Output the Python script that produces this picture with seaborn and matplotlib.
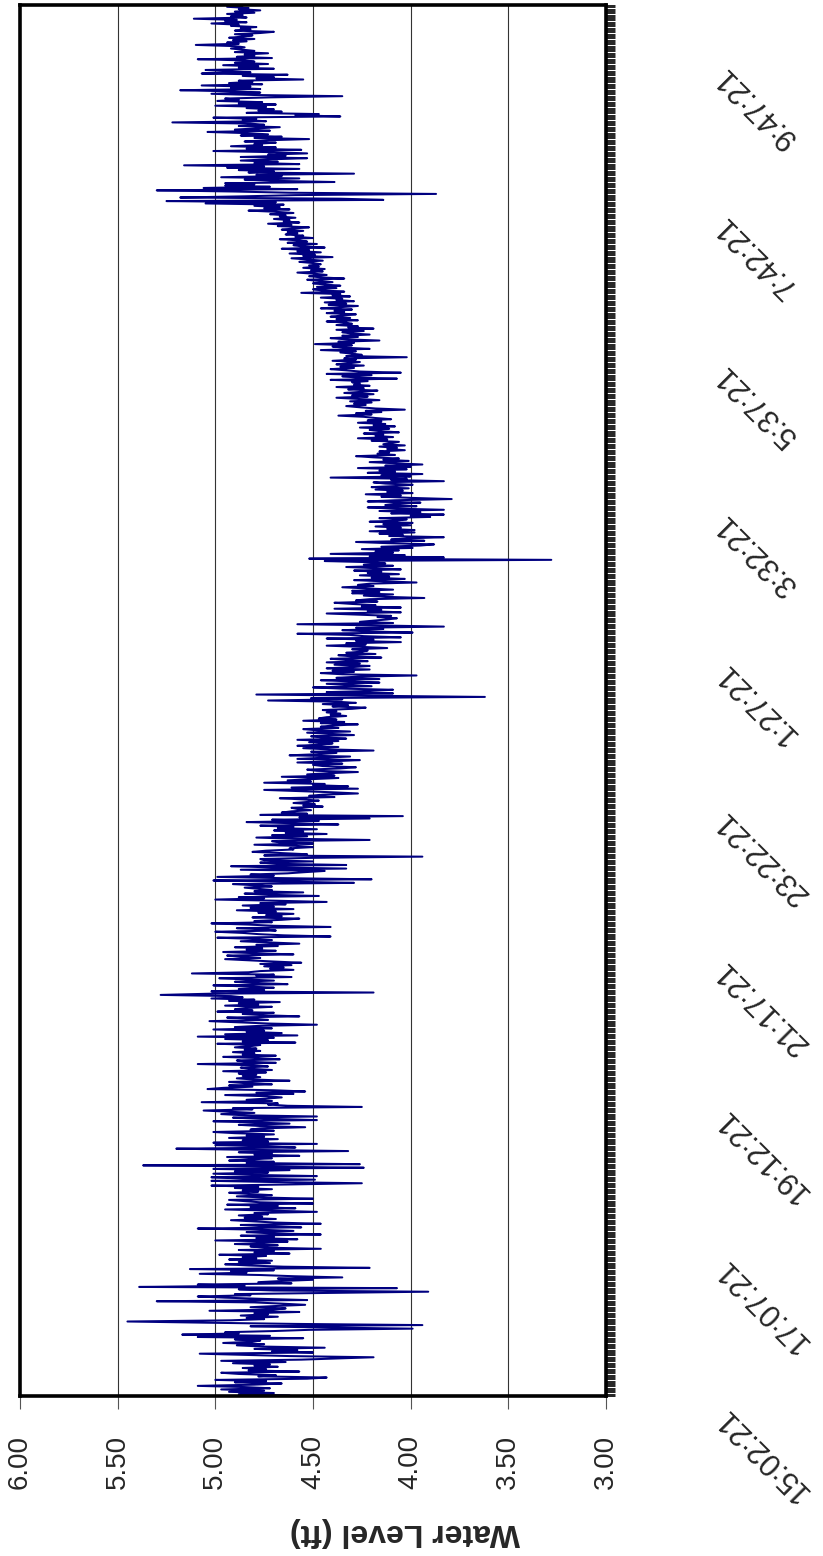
import matplotlib
matplotlib.use("Agg")
import matplotlib.pyplot as plt
from matplotlib.ticker import FixedLocator
import numpy as np
import pandas as pd
import seaborn as sns

# One-minute water level readings (ft), grouped by the 2 h 05 min label intervals
level_1502 = [
    4.62, 4.88, 4.70, 4.93, 4.75, 4.97, 4.72, 4.85, 5.09, 4.80, 4.66, 4.90, 4.74, 5.00, 4.53, 4.43, 4.78, 4.69, 4.88, 4.97, 4.57, 4.83, 4.74, 4.86, 4.68,
    4.80, 4.72, 4.91, 4.64, 4.97, 4.56, 4.38, 4.19, 4.62, 4.85, 5.08, 4.50, 4.71, 4.58, 4.80, 4.44, 4.76, 4.89, 4.75, 4.96, 4.81, 4.77, 4.90, 4.55, 5.09,
    4.72, 5.17, 4.88, 4.95, 4.70, 4.52, 3.99, 4.45, 4.82, 3.94, 4.60, 5.05, 5.45, 4.92, 4.75, 4.84, 4.68, 4.87, 4.73, 4.80, 4.57, 5.03, 4.70, 4.64, 4.82,
    4.69, 4.54, 4.66, 4.80, 5.30, 4.53, 4.76, 4.95, 5.09, 4.82, 4.90, 4.40, 3.91, 4.70, 4.88, 4.07, 5.39, 4.85, 5.09, 4.61, 4.78, 4.66, 4.50, 4.68, 4.35,
    4.60, 4.77, 5.08, 4.84, 4.92, 4.70, 5.13, 4.21, 4.65, 4.83, 4.95, 4.72, 4.88, 4.71, 4.93, 4.79, 4.86, 4.74, 4.98, 4.62, 4.80, 4.70, 4.88, 4.46, 4.75,
]
level_1707 = [
    4.82, 4.68, 4.90, 4.75, 4.63, 5.00, 4.58, 4.79, 4.70, 4.87, 4.46, 4.72, 4.84, 4.60, 4.77, 5.09, 4.56, 4.74, 4.87, 4.46, 4.69, 4.80, 4.92, 4.69, 4.85,
    4.76, 4.88, 4.73, 4.80, 4.48, 4.71, 4.95, 4.59, 4.82, 4.68, 4.94, 4.50, 4.77, 4.85, 4.93, 4.50, 4.74, 4.89, 4.71, 4.83, 4.93, 4.78, 4.86, 4.71, 4.90,
    4.78, 5.02, 4.61, 4.25, 4.70, 5.02, 4.49, 4.86, 5.02, 4.48, 4.80, 5.01, 4.73, 4.90, 4.62, 5.01, 4.24, 4.75, 5.37, 4.26, 4.84, 4.70, 4.93, 4.81, 4.71,
    4.94, 4.57, 4.80, 4.71, 4.88, 4.32, 4.82, 5.20, 4.59, 4.76, 5.00, 4.48, 5.01, 4.73, 4.86, 4.68, 4.93, 4.75, 4.84, 4.70, 4.90, 5.01, 4.70, 4.82, 4.77,
    4.54, 4.77, 4.88, 4.62, 4.80, 5.01, 4.48, 4.72, 4.91, 4.48, 4.85, 4.97, 4.80, 4.93, 5.06, 4.81, 4.91, 4.25, 4.63, 4.73, 4.68, 5.07, 4.71, 4.84, 4.74,
]
level_1912 = [
    4.66, 4.74, 4.95, 4.60, 4.79, 4.54, 4.70, 5.04, 4.96, 4.81, 4.93, 4.71, 4.85, 4.93, 4.62, 4.80, 4.89, 4.77, 4.86, 4.79, 4.88, 4.74, 4.96, 4.71, 4.82,
    4.87, 4.73, 4.80, 5.09, 4.69, 4.84, 4.89, 4.67, 4.78, 4.96, 4.69, 4.86, 4.80, 4.91, 4.77, 4.85, 4.79, 4.90, 4.82, 4.77, 4.99, 4.59, 4.86, 4.73, 4.95,
    4.70, 5.09, 4.58, 4.95, 4.66, 4.84, 4.75, 5.01, 4.71, 4.90, 4.78, 4.48, 4.73, 4.88, 5.03, 4.73, 4.80, 4.94, 4.57, 4.76, 4.86, 4.70, 4.99, 4.81, 4.90,
    4.84, 4.71, 4.95, 4.78, 4.88, 4.67, 4.93, 4.80, 5.02, 4.86, 4.92, 5.28, 5.03, 4.19, 5.02, 4.75, 4.88, 4.70, 4.82, 5.01, 4.63, 4.79, 4.90, 4.70, 4.85,
    4.98, 4.61, 4.79, 4.70, 5.12, 4.83, 4.77, 4.60, 4.72, 4.65, 4.75, 4.61, 4.77, 4.56, 4.70, 4.82, 4.95, 4.77, 4.86, 4.94, 4.60, 4.80, 4.96, 4.69, 4.84,
]
level_2117 = [
    4.76, 4.90, 4.68, 4.79, 4.57, 4.72, 4.87, 4.71, 4.80, 4.99, 4.41, 4.65, 4.78, 4.86, 5.00, 4.69, 4.75, 4.89, 4.41, 4.70, 4.83, 5.02, 4.71, 4.80, 4.66,
    4.57, 4.81, 4.66, 4.74, 4.60, 4.78, 4.69, 4.89, 4.60, 4.82, 4.70, 4.86, 4.64, 4.77, 4.43, 4.68, 5.00, 4.75, 4.88, 4.47, 4.72, 4.85, 4.55, 4.80, 4.71,
    4.78, 4.85, 4.71, 4.80, 4.91, 4.29, 4.62, 5.01, 4.20, 4.67, 4.99, 4.70, 4.82, 4.63, 4.54, 4.44, 4.87, 4.33, 4.72, 4.92, 4.33, 4.68, 4.77, 4.50, 4.75,
    4.77, 4.50, 3.94, 4.75, 4.53, 4.66, 4.81, 4.74, 4.60, 4.62, 4.50, 4.58, 4.80, 4.50, 4.67, 4.71, 4.21, 4.60, 4.79, 4.53, 4.71, 4.43, 4.64, 4.55, 4.70,
    4.48, 4.68, 4.60, 4.77, 4.37, 4.59, 4.84, 4.47, 4.71, 4.21, 4.57, 4.04, 4.77, 4.53, 4.66, 4.61, 4.51, 4.58, 4.61, 4.45, 4.55, 4.49, 4.60, 4.52, 4.47,
]
level_2322 = [
    4.55, 4.67, 4.39, 4.52, 4.45, 4.27, 4.40, 4.58, 4.75, 4.27, 4.61, 4.32, 4.50, 4.44, 4.75, 4.51, 4.63, 4.51, 4.37, 4.66, 4.39, 4.53, 4.42, 4.27, 4.48,
    4.53, 4.36, 4.28, 4.45, 4.50, 4.35, 4.58, 4.40, 4.26, 4.58, 4.44, 4.31, 4.62, 4.47, 4.38, 4.51, 4.19, 4.42, 4.55, 4.37, 4.58, 4.46, 4.40, 4.52, 4.37,
    4.58, 4.33, 4.45, 4.51, 4.29, 4.41, 4.53, 4.31, 4.48, 4.55, 4.37, 4.46, 4.40, 4.27, 4.46, 4.34, 4.55, 4.38, 4.47, 4.43, 4.33, 4.41, 4.36, 4.43, 4.38,
    4.45, 4.30, 4.23, 4.40, 4.32, 4.45, 4.28, 4.38, 4.73, 4.35, 4.51, 3.62, 4.20, 4.79, 4.09, 4.43, 4.21, 4.09, 4.36, 4.50, 4.20, 4.31, 4.43, 4.16, 4.30,
    4.46, 4.16, 4.38, 4.27, 3.97, 4.35, 4.46, 4.29, 4.40, 4.21, 4.43, 4.30, 4.21, 4.39, 4.26, 4.43, 4.22, 4.32, 4.41, 4.15, 4.30, 4.37, 4.18, 4.33, 4.25,
]
level_0127 = [
    4.22, 4.30, 4.12, 4.25, 4.43, 4.23, 4.33, 4.05, 4.28, 4.19, 4.43, 4.05, 4.24, 4.31, 4.58, 3.99, 4.22, 4.35, 4.14, 4.28, 3.83, 4.17, 4.58, 4.09, 4.26,
    4.19, 4.12, 4.07, 4.17, 4.10, 4.26, 4.43, 4.05, 4.22, 4.15, 4.39, 4.05, 4.25, 4.18, 4.30, 4.39, 4.17, 4.28, 4.21, 3.93, 4.13, 4.24, 4.09, 4.30, 4.16,
    4.30, 4.09, 4.22, 4.35, 4.19, 4.27, 4.21, 3.97, 4.14, 4.29, 4.03, 4.20, 4.11, 4.26, 4.06, 4.22, 4.15, 4.29, 4.05, 4.18, 4.33, 4.09, 4.24, 4.13, 4.20,
    4.44, 3.28, 4.52, 3.83, 4.21, 4.03, 4.41, 4.09, 4.18, 4.06, 4.25, 3.99, 4.15, 3.95, 3.88, 4.12, 4.28, 3.93, 4.10, 4.02, 3.83, 4.11, 4.04, 4.16, 3.98,
    4.21, 3.98, 4.12, 4.05, 4.18, 4.00, 4.14, 3.99, 4.21, 4.07, 4.02, 4.16, 3.90, 4.00, 3.83, 4.10, 3.95, 4.16, 3.83, 4.08, 4.22, 3.97, 4.13, 4.08, 3.95,
]
level_0332 = [
    4.22, 4.08, 3.79, 4.00, 4.15, 4.05, 4.23, 3.99, 4.12, 4.04, 4.18, 4.01, 4.20, 4.07, 3.99, 4.13, 4.19, 3.83, 4.10, 4.02, 4.41, 4.00, 4.15, 3.94, 4.22,
    4.08, 4.16, 4.02, 4.27, 4.00, 4.13, 3.94, 4.08, 4.21, 4.01, 4.14, 4.06, 4.19, 4.28, 4.08, 4.17, 4.11, 4.16, 4.03, 4.12, 4.07, 4.16, 4.03, 4.14, 4.10,
    4.06, 4.20, 4.12, 4.27, 4.09, 4.18, 4.14, 4.24, 4.06, 4.16, 4.21, 4.11, 4.26, 4.08, 4.19, 4.13, 4.27, 4.15, 4.22, 4.10, 4.18, 4.24, 4.37, 4.20, 4.28,
    4.15, 4.23, 4.03, 4.18, 4.26, 4.33, 4.23, 4.29, 4.20, 4.31, 4.16, 4.27, 4.38, 4.22, 4.30, 4.19, 4.34, 4.25, 4.17, 4.32, 4.24, 4.38, 4.21, 4.29, 4.26,
    4.30, 4.22, 4.41, 4.07, 4.28, 4.35, 4.20, 4.43, 4.05, 4.26, 4.33, 4.41, 4.29, 4.36, 4.24, 4.38, 4.31, 4.26, 4.40, 4.28, 4.34, 4.02, 4.33, 4.25, 4.30,
]
level_0537 = [
    4.36, 4.28, 4.46, 4.21, 4.34, 4.40, 4.30, 4.49, 4.29, 4.37, 4.16, 4.33, 4.41, 4.27, 4.35, 4.21, 4.31, 4.35, 4.24, 4.38, 4.19, 4.32, 4.27, 4.38, 4.30,
    4.33, 4.43, 4.27, 4.38, 4.31, 4.41, 4.35, 4.28, 4.43, 4.34, 4.39, 4.30, 4.46, 4.36, 4.27, 4.42, 4.33, 4.44, 4.29, 4.38, 4.35, 4.46, 4.31, 4.40, 4.36,
    4.56, 4.34, 4.45, 4.50, 4.38, 4.48, 4.36, 4.44, 4.50, 4.40, 4.47, 4.53, 4.34, 4.46, 4.52, 4.43, 4.49, 4.58, 4.45, 4.51, 4.44, 4.55, 4.47, 4.52, 4.46,
    4.50, 4.57, 4.45, 4.53, 4.61, 4.40, 4.55, 4.49, 4.62, 4.46, 4.58, 4.52, 4.66, 4.44, 4.56, 4.60, 4.48, 4.63, 4.53, 4.57, 4.67, 4.50, 4.59, 4.55, 4.64,
    4.58, 4.63, 4.55, 4.66, 4.60, 4.52, 4.68, 4.61, 4.73, 4.57, 4.65, 4.62, 4.70, 4.59, 4.67, 4.64, 4.72, 4.60, 4.69, 4.83, 4.62, 4.75, 4.67, 4.80, 4.65,
]
level_0742 = [
    5.05, 4.69, 5.25, 4.14, 4.36, 5.18, 4.85, 4.59, 3.87, 4.62, 4.90, 5.30, 4.58, 5.06, 4.72, 4.95, 4.80, 4.95, 4.39, 4.70, 4.85, 4.57, 4.97, 4.66, 4.79,
    4.29, 4.83, 4.70, 4.88, 4.57, 4.94, 4.75, 5.16, 4.57, 4.80, 4.68, 4.87, 4.72, 4.53, 4.87, 4.64, 4.73, 4.53, 4.70, 5.01, 4.56, 4.84, 4.69, 4.92, 4.76,
    4.80, 4.69, 4.85, 4.74, 4.52, 4.80, 4.66, 4.87, 4.73, 4.84, 5.04, 4.72, 4.90, 4.78, 4.67, 4.88, 4.75, 4.82, 5.22, 4.74, 4.86, 4.79, 5.01, 4.36, 4.59,
    4.47, 4.84, 4.66, 4.78, 4.70, 4.84, 4.74, 5.00, 4.69, 4.88, 4.76, 4.99, 4.88, 4.95, 4.72, 4.35, 4.80, 5.02, 4.77, 4.90, 5.18, 4.77, 4.92, 4.82, 5.07,
    4.76, 4.93, 4.81, 4.88, 4.55, 4.79, 4.70, 4.86, 4.63, 5.07, 4.82, 4.95, 5.05, 4.70, 4.88, 4.78, 4.96, 4.73, 4.90, 4.80, 4.85, 5.09, 4.71, 4.89, 4.80,
]
level_0947 = [
    4.85, 4.73, 4.90, 4.80, 4.86, 4.92, 4.85, 4.90, 5.10, 4.88, 4.94, 4.84, 4.91, 4.80, 4.93, 4.86, 4.81, 4.90, 4.77, 4.70, 4.90, 4.82, 4.87, 4.79, 4.92,
    4.88, 5.02, 4.84, 4.95, 4.89, 5.11, 4.84, 4.92, 4.86, 4.94, 4.80, 4.90, 4.77, 4.88, 4.83, 4.94, 4.86,
]

time_labels = ["15:02:21", "17:07:21", "19:12:21", "21:17:21", "23:22:21",
               "1:27:21", "3:32:21", "5:37:21", "7:42:21", "9:47:21"]
level_ticks = [6.0, 5.5, 5.0, 4.5, 4.0, 3.5, 3.0]
start_time = "15:02:21"

levels = np.concatenate([level_1502, level_1707, level_1912, level_2117, level_2322,
                         level_0127, level_0332, level_0537, level_0742, level_0947])
n = len(levels)
stamps = pd.date_range(f"2000-01-01 {start_time}", periods=n, freq="min")
df = pd.DataFrame({
    "minute": np.arange(n),
    "level": levels,
    "stamp": [f"{t.hour}:{t:%M:%S}" for t in stamps],
})

sns.set_style("white")
plt.rcParams["font.family"] = ["Liberation Sans", "DejaVu Sans"]

W, H = 823, 1556
fig = plt.figure(figsize=(W / 100, H / 100), dpi=100)
ax = fig.add_axes([20 / W, 1 - 1396 / H, 586 / W, 1391 / H])

# vertical grid at every half foot
for v in level_ticks[1:-1]:
    ax.axvline(v, color="#333333", lw=0.8, zorder=0)

sns.lineplot(data=df, x="level", y="minute", sort=False, estimator=None,
             color="#000080", linewidth=1.45, ax=ax, zorder=2)

ax.set_xlim(6.0, 3.0)
ax.set_ylim(-0.5, n - 0.5)
ax.set_xlabel("")
ax.set_ylabel("")

for sp in ax.spines.values():
    sp.set_visible(True)
    sp.set_color("black")
    sp.set_linewidth(2.6)

# level axis along the bottom, labels turned a quarter turn
ax.set_xticks(level_ticks)
ax.set_xticklabels([f"{v:.2f}" for v in level_ticks], rotation=90, fontsize=20)
ax.tick_params(axis="x", which="major", bottom=True, direction="out",
               length=9, width=0.8, color="#555555", pad=19)

# time axis on the right: one tick mark per minute slot
ax.yaxis.tick_right()
ax.set_yticks([])
ax.yaxis.set_minor_locator(FixedLocator(np.arange(n + 1) - 0.5))
ax.tick_params(axis="y", which="minor", right=True, left=False, direction="out",
               length=6.5, width=0.6, color="black")

for lab in time_labels:
    pos = int(df.index[df["stamp"] == lab][0])
    ax.annotate(lab, xy=(1, pos), xycoords=("axes fraction", "data"),
                xytext=(114, -16), textcoords="offset pixels",
                rotation=135, rotation_mode="anchor", ha="right", va="center",
                fontsize=22, annotation_clip=False)

fig.text(405 / W, 1 - 1532 / H, "Water Level (ft)", rotation=180,
         ha="center", va="center", fontsize=23, fontweight="bold")

fig.savefig("out.png", dpi=100)
